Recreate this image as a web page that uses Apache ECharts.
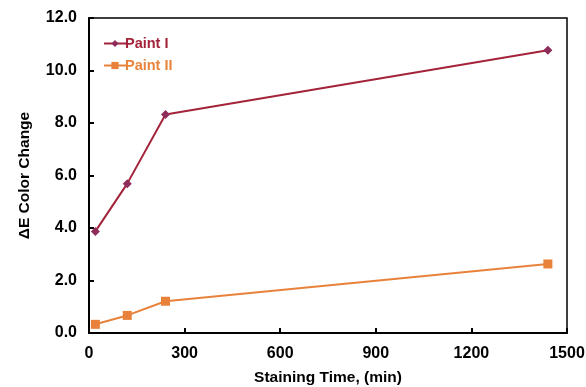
<!DOCTYPE html>
<html><head><meta charset="utf-8">
<script src="https://cdn.jsdelivr.net/npm/echarts@6/dist/echarts.min.js"></script>
<style>html,body{margin:0;padding:0;background:#fff}#c{width:586px;height:387px}</style>
</head><body><div id="c"></div>
<script>
const seriesNames = ['Paint I', 'Paint II'];
const timesMin = [20, 120, 240, 1440];
const paint1 = [3.87, 5.69, 8.32, 10.77];
const paint2 = [0.33, 0.67, 1.21, 2.63];
const xTicks = [0, 300, 600, 900, 1200, 1500];
const yTicks = [0, 2, 4, 6, 8, 10, 12];

const chart = echarts.init(document.getElementById('c'));
const font = 'Liberation Sans, Arial, sans-serif';
chart.setOption({
  animation: false,
  grid: { left: 89, right: 19, top: 18, bottom: 54, show: true, borderColor: '#000', borderWidth: 1.5, containLabel: false, outerBoundsMode: 'none' },
  legend: {
    left: 98, top: 31, orient: 'vertical', itemGap: 7, itemWidth: 22, itemHeight: 9,
    data: [
      { name: seriesNames[0], textStyle: { color: '#A3233A' } },
      { name: seriesNames[1], textStyle: { color: '#E8843C' } }
    ],
    textStyle: { fontFamily: font, fontWeight: 'bold', fontSize: 14.5, padding: [0, 0, 0, -6] }
  },
  xAxis: {
    type: 'value', min: xTicks[0], max: xTicks[xTicks.length - 1], interval: 300,
    name: 'Staining Time, (min)', nameLocation: 'middle', nameGap: 37,
    nameTextStyle: { fontFamily: font, fontWeight: 'bold', fontSize: 15.5, color: '#000' },
    axisLine: { lineStyle: { color: '#000', width: 2 } },
    axisTick: { inside: true, length: 5, lineStyle: { color: '#000', width: 2 } },
    axisLabel: { fontFamily: font, fontWeight: 'bold', fontSize: 16, color: '#000', margin: 13, formatter: v => String(v) },
    splitLine: { show: false }
  },
  yAxis: {
    type: 'value', min: yTicks[0], max: yTicks[yTicks.length - 1], interval: 2,
    name: 'ΔE Color Change', nameLocation: 'middle', nameGap: 56,
    nameTextStyle: { fontFamily: font, fontWeight: 'bold', fontSize: 15.5, color: '#000' },
    axisLine: { lineStyle: { color: '#000', width: 2 } },
    axisTick: { inside: true, length: 5, lineStyle: { color: '#000', width: 2 } },
    axisLabel: { fontFamily: font, fontWeight: 'bold', fontSize: 16, color: '#000', margin: 12, formatter: v => v.toFixed(1) },
    splitLine: { show: false }
  },
  series: [
    {
      name: seriesNames[0], type: 'line', data: timesMin.map((t, i) => [t, paint1[i]]),
      symbol: 'diamond', symbolSize: 9,
      lineStyle: { color: '#A3233A', width: 2 },
      itemStyle: { color: '#8E2C5A' }
    },
    {
      name: seriesNames[1], type: 'line', data: timesMin.map((t, i) => [t, paint2[i]]),
      symbol: 'rect', symbolSize: 9,
      lineStyle: { color: '#E8823A', width: 2 },
      itemStyle: { color: '#E8823A' }
    }
  ]
});
</script></body></html>
